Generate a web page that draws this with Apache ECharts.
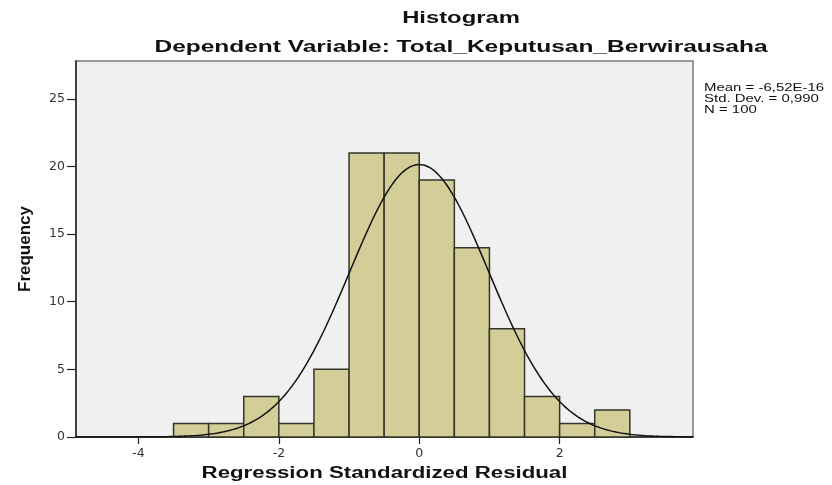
<!DOCTYPE html>
<html><head><meta charset="utf-8">
<script src="https://cdn.jsdelivr.net/npm/echarts@6/dist/echarts.min.js"></script>
<style>html,body{margin:0;padding:0;background:#fff}#c{width:832px;height:485px}</style>
</head><body><div id="c"></div>
<script>
// Data
const binStarts = [-3.5, -3.0, -2.5, -2.0, -1.5, -1.0, -0.5, 0.0, 0.5, 1.0, 1.5, 2.0, 2.5];
const binWidth = 0.5;
const counts = [1, 1, 3, 1, 5, 21, 21, 19, 14, 8, 3, 1, 2];
const xTicks = [-4, -2, 0, 2];
const yTicks = [0, 5, 10, 15, 20, 25];
const statMean = -6.52e-16;
const statSD = 0.990;
const statN = 100;
const statLines = ['Mean = -6,52E-16', 'Std. Dev. = 0,990', 'N = 100'];
const titleText = 'Histogram';
const subtitleText = 'Dependent Variable: Total_Keputusan_Berwirausaha';
const xName = 'Regression Standardized Residual';
const yName = 'Frequency';

const xMin = -4.89, xMax = 3.90, yMax = 27.8;

// Normal curve defined by the reported Mean / SD / N (SPSS overlay)
const curve = [];
for (let i = 0; i <= 200; i++) {
  const x = xMin + (xMax - xMin) * i / 200;
  const z = (x - statMean) / statSD;
  curve.push([x, statN * binWidth * Math.exp(-0.5 * z * z) / (statSD * Math.sqrt(2 * Math.PI))]);
}

const barData = binStarts.map((s, i) => [s, s + binWidth, counts[i]]);
const FONT = '"Liberation Sans", Arial, sans-serif';
const TICKFONT = '"DejaVu Sans", sans-serif';

const chart = echarts.init(document.getElementById('c'), null, {renderer: 'canvas'});
chart.setOption({
  animation: false,
  backgroundColor: '#ffffff',
  grid: {left: 76, right: 139, top: 61, bottom: 48, show: true,
         backgroundColor: '#f0f0f0', borderColor: '#7a7a7a', borderWidth: 1.5},
  xAxis: {
    type: 'value', min: xMin, max: xMax,
    axisLine: {show: true, onZero: false, lineStyle: {color: '#222', width: 1.5}},
    axisTick: {show: true, length: 7, customValues: xTicks, lineStyle: {color: '#222', width: 1.2}},
    axisLabel: {customValues: xTicks, fontFamily: TICKFONT, fontSize: 12.5, color: '#333', margin: 10},
    splitLine: {show: false}
  },
  yAxis: {
    type: 'value', min: 0, max: yMax,
    name: yName, nameLocation: 'middle', nameGap: 42, nameRotate: 90,
    nameTextStyle: {fontFamily: FONT, fontSize: 17, fontWeight: 'bold', color: '#111'},
    axisLine: {show: true, onZero: false, lineStyle: {color: '#222', width: 1.5}},
    axisTick: {show: true, length: 9, customValues: yTicks, lineStyle: {color: '#222', width: 1.2}},
    axisLabel: {customValues: yTicks, fontFamily: TICKFONT, fontSize: 12.5, color: '#333', margin: 11},
    splitLine: {show: false}
  },
  graphic: [
    {type: 'text', x: 461, y: 18, scaleX: 1.4,
     style: {text: titleText, fontFamily: FONT, fontSize: 17, fontWeight: 'bold', fill: '#111',
             textAlign: 'center', textVerticalAlign: 'middle'}},
    {type: 'text', x: 461, y: 47, scaleX: 1.44,
     style: {text: subtitleText, fontFamily: FONT, fontSize: 17, fontWeight: 'bold', fill: '#111',
             textAlign: 'center', textVerticalAlign: 'middle'}},
    {type: 'text', x: 384.5, y: 474, scaleX: 1.39,
     style: {text: xName, fontFamily: FONT, fontSize: 16, fontWeight: 'bold', fill: '#111',
             textAlign: 'center', textVerticalAlign: 'middle'}},
    {type: 'text', x: 704, y: 82, scaleX: 1.3,
     style: {text: statLines.join('\n'), fontFamily: FONT, fontSize: 11.5, lineHeight: 11, fill: '#111'}}
  ],
  series: [
    {
      type: 'custom',
      data: barData,
      encode: {x: [0, 1], y: 2},
      renderItem: function (params, api) {
        const p0 = api.coord([api.value(0), 0]);
        const p1 = api.coord([api.value(1), api.value(2)]);
        return {
          type: 'rect',
          shape: {x: p0[0], y: p1[1], width: p1[0] - p0[0], height: p0[1] - p1[1]},
          style: {fill: '#d3ce98', stroke: '#35352b', lineWidth: 1.5}
        };
      },
      z: 2
    },
    {
      type: 'line', data: curve, showSymbol: false, smooth: false,
      lineStyle: {color: '#111', width: 1.5}, z: 3
    }
  ]
});
</script></body></html>
